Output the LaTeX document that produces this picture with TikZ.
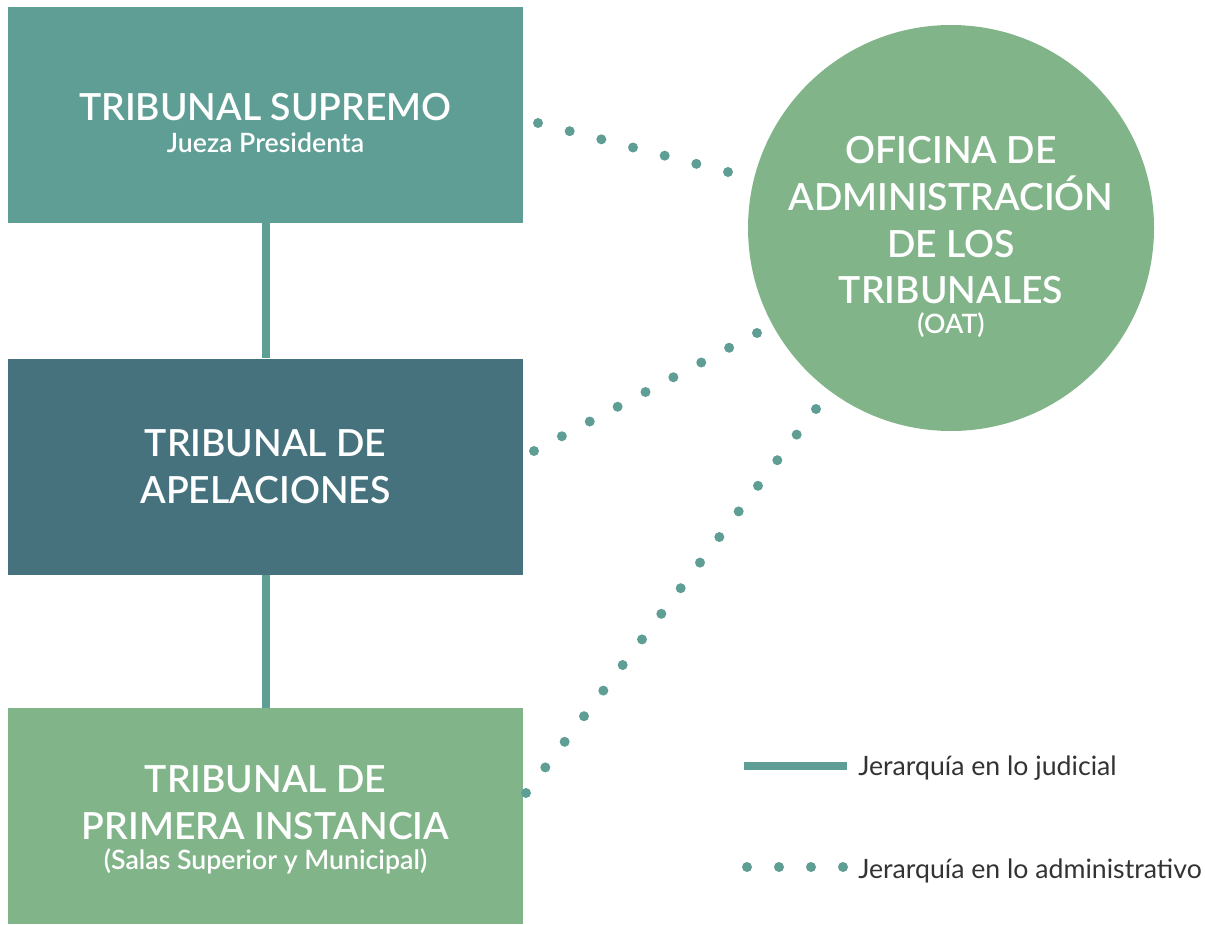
\documentclass[tikz,border=0pt]{standalone}
\usepackage{fontspec}
\setmainfont{Lato}[BoldFont={Lato Semibold}]
\usetikzlibrary{calc}

\definecolor{judicial}{HTML}{5E9E94}
\definecolor{apelac}{HTML}{46727E}
\definecolor{oficina}{HTML}{82B48A}
\definecolor{leyenda}{HTML}{333333}

\newcommand{\titulo}{\fontsize{28}{35}\selectfont\bfseries}
\newcommand{\subtit}{\fontsize{20}{24}\selectfont\bfseries}

\tikzset{
  caja/.style={rectangle, inner sep=0, minimum width=386.25pt, minimum height=162pt},
  rotulo/.style={inner sep=0, text=white, align=center, font=\titulo},
  ofic/.style={circle, inner sep=0, minimum size=304.5pt, fill=oficina},
  jerarq/.style={judicial, line width=6pt},
  punto/.style={fill=judicial},
  leyenda/.style={text=leyenda, inner sep=0, font=\fontsize{20}{24}\selectfont}
}

\begin{document}
\begin{tikzpicture}[x=0.75pt, y=-0.75pt]
	\useasboundingbox (0,0) rectangle (1205,924);

	\node (TS) at (265.5,115) [caja, fill=judicial] {};
	\node (TA) at (265.5,466.5) [caja, fill=apelac] {};
	\node (TP) at (265.5,816) [caja, fill=oficina] {};
	\node (OAT) at (951,228) [ofic] {};

	\node (TStx) at (265.5,123) [rotulo] {TRIBUNAL SUPREMO\\[-11pt]{\subtit Jueza Presidenta}};
	\node (TAtx) at (265.5,466.5) [rotulo] {TRIBUNAL DE\\APELACIONES};
	\node (TPtx) at (265.5,820) [rotulo] {TRIBUNAL DE\\PRIMERA INSTANCIA\\[-12pt]{\subtit (Salas Superior y Municipal)}};
	\node (OATtx) at (951,237) [rotulo] {OFICINA DE\\ADMINISTRACIÓN\\DE LOS\\TRIBUNALES\\[-13pt]{\subtit (OAT)}};

	\draw[jerarq] (TS) -- (TA);
	\draw[jerarq] (TA) -- (TP);

	\coordinate (a1) at (538,123);
	\coordinate (b1) at (728,172);
	\coordinate (a2) at (534,451);
	\coordinate (b2) at (757,333);
	\coordinate (a3) at (526,793);
	\coordinate (b3) at (816,409);
	\foreach \k in {0,...,6} \fill[punto] ($(a1)!\k/6!(b1)$) circle (3.75pt);
	\foreach \k in {0,...,8} \fill[punto] ($(a2)!\k/8!(b2)$) circle (3.75pt);
	\foreach \k in {0,...,15} \fill[punto] ($(a3)!\k/15!(b3)$) circle (3.75pt);

	\coordinate (l1) at (744,766);
	\coordinate (l2) at (847,766);
	\draw[jerarq] (l1) -- (l2);
	\node (LJ) at (858,775) [leyenda, anchor=base west] {Jerarquía en lo judicial};
	\foreach \x in {747,779,811,843} \fill[punto] (\x,867) circle (3.75pt);
	\node (LA) at (858,878) [leyenda, anchor=base west] {Jerarquía en lo administrativo};
\end{tikzpicture}
\end{document}
